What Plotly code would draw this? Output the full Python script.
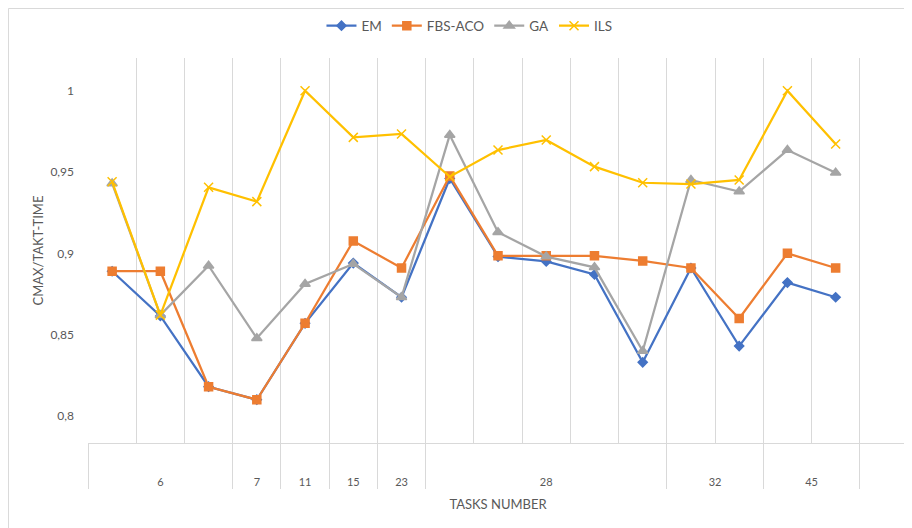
import plotly.graph_objects as go

# x categories: group label (tasks number) per slot; last slot is empty
task_groups = ["6", "6", "6", "7", "11", "15", "23", "28", "28", "28", "28", "28",
               "32", "32", "45", "45", " "]

em = [0.889, 0.8615, 0.818, 0.810, 0.857, 0.894, 0.873, 0.946,
      0.898, 0.895, 0.887, 0.833, 0.891, 0.843, 0.882, 0.873]
fbs_aco = [0.889, 0.889, 0.818, 0.810, 0.857, 0.9076, 0.891, 0.9476,
           0.8985, 0.8985, 0.8985, 0.8953, 0.891, 0.860, 0.900, 0.891]
ga = [0.943, 0.862, 0.8924, 0.8478, 0.8812, 0.8935, 0.873, 0.9728,
      0.913, 0.898, 0.8914, 0.840, 0.9451, 0.938, 0.9635, 0.9496]
ils = [0.944, 0.862, 0.9406, 0.9318, 1.0, 0.9713, 0.9734, 0.9471,
       0.9635, 0.9697, 0.9533, 0.9434, 0.9426, 0.9451, 1.0, 0.9672]

y_ticks = [0.8, 0.85, 0.9, 0.95, 1.0]

# blank inner-level labels (distinct so every slot is its own category)
inner = ["\u00a0" * (i + 1) + "<br>\u00a0" for i in range(len(task_groups))]
x_cats = [task_groups, inner]

def pad(v):
    return v + [None] * (len(task_groups) - len(v))

series = [
    ("EM", em, "#4472C4", "diamond", 7),
    ("FBS-ACO", fbs_aco, "#ED7D31", "square", 8),
    ("GA", ga, "#A5A5A5", "triangle-up", 9),
    ("ILS", ils, "#FFC000", "x-thin-open", 9),
]

fig = go.Figure()
for name, vals, col, sym, size in series:
    fig.add_trace(go.Scatter(
        x=x_cats, y=pad(vals), name=name, mode="lines+markers",
        line=dict(color=col, width=2.25),
        marker=dict(symbol=sym, size=size, color=col,
                    line=dict(color=col, width=1.5)),
    ))

grid = "#D9D9D9"
txt = "#595959"
font_family = "Lato, Liberation Sans, sans-serif"

fig.update_layout(
    width=912, height=528,
    margin=dict(l=80, r=12, t=50, b=93, autoexpand=False),
    paper_bgcolor="white", plot_bgcolor="white",
    separators=", ",
    font=dict(family=font_family, color=txt, size=12),
    legend=dict(orientation="h", xref="container", yref="container",
                x=0.506, xanchor="center", y=0.966, yanchor="middle",
                font=dict(size=13.5, color=txt), itemwidth=30,
                traceorder="normal", bgcolor="rgba(0,0,0,0)"),
    showlegend=True,
)

fig.update_xaxes(
    type="multicategory", tickson="boundaries", automargin=False,
    range=[-0.5, len(task_groups) - 0.5],
    showgrid=True, gridcolor=grid, gridwidth=1,
    showline=True, linecolor=grid, linewidth=1,
    showdividers=True, dividercolor=grid, dividerwidth=1,
    ticks="", tickangle=0, tickfont=dict(size=11, color=txt),
    title=dict(text="TASKS NUMBER", font=dict(size=13, color=txt), standoff=12),
    zeroline=False,
)
fig.update_yaxes(
    range=[0.7834, 1.0201], tickvals=y_ticks, automargin=False,
    showgrid=False, zeroline=False, showline=False,
    tickfont=dict(size=12, color=txt), ticklabelstandoff=13,
    title=dict(text="CMAX/TAKT-TIME", font=dict(size=13, color=txt), standoff=3),
)

# outer chart border (cropped at right and bottom)
fig.add_shape(type="rect", xref="paper", yref="paper",
              x0=-0.097, x1=1.2, y0=-0.5, y1=1.1286,
              line=dict(color=grid, width=1), fillcolor="rgba(0,0,0,0)", layer="below")

fig.write_html("out.html")
